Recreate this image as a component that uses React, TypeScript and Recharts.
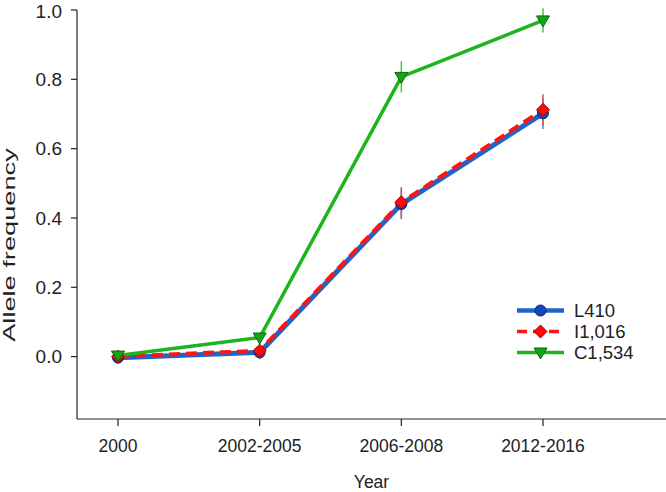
import { ErrorBar, Label, Legend, Line, LineChart, XAxis, YAxis } from "recharts";

const periods = ["2000", "2002-2005", "2006-2008", "2012-2016"];
const l410 = [-0.003, 0.012, 0.44, 0.702];
const l410Err = [0.008, 0.012, 0.044, 0.045];
const i1016 = [0.0, 0.017, 0.445, 0.712];
const i1016Err = [0.008, 0.025, 0.044, 0.045];
const c1534 = [0.003, 0.055, 0.807, 0.97];
const c1534Err = [0.012, 0.015, 0.045, 0.035];
const yTicks = [0, 0.2, 0.4, 0.6, 0.8, 1.0];

const FONT = "'Liberation Sans', Arial, sans-serif";
const INK = "#222";

const BLUE = "#1f65c9";
const RED = "#ff1414";
const GREEN = "#1db51d";

const rows = periods.map((p, i) => ({
  period: p,
  l410: l410[i],
  l410Err: l410Err[i],
  i1016: i1016[i],
  i1016Err: i1016Err[i],
  c1534: c1534[i],
  c1534Err: c1534Err[i],
}));

type DotProps = { cx?: number; cy?: number };

function CircleDot({ cx, cy }: DotProps) {
  if (cx == null || cy == null) return null;
  return <circle cx={cx} cy={cy} r={5.5} fill="#1846b8" stroke="#0b2676" strokeWidth={1} />;
}

function DiamondDot({ cx, cy }: DotProps) {
  if (cx == null || cy == null) return null;
  const s = 6.5;
  return (
    <path
      d={`M${cx},${cy - s}L${cx + s},${cy}L${cx},${cy + s}L${cx - s},${cy}Z`}
      fill="#ff0a0a"
      stroke="#a00000"
      strokeWidth={1}
    />
  );
}

function TriangleDot({ cx, cy }: DotProps) {
  if (cx == null || cy == null) return null;
  return (
    <path
      d={`M${cx - 6.5},${cy - 4.5}L${cx + 6.5},${cy - 4.5}L${cx},${cy + 6.5}Z`}
      fill="#15a415"
      stroke="#086a08"
      strokeWidth={1}
    />
  );
}

const series = [
  { name: "L410", color: BLUE, width: 4.5, dash: undefined, Dot: CircleDot },
  { name: "I1,016", color: RED, width: 3.5, dash: "10 6", Dot: DiamondDot },
  { name: "C1,534", color: GREEN, width: 3.5, dash: undefined, Dot: TriangleDot },
];

function LegendBox() {
  return (
    <div style={{ fontFamily: FONT, fontSize: 18.5, color: INK }}>
      {series.map((s) => (
        <div key={s.name} style={{ display: "flex", alignItems: "center", height: 21 }}>
          <svg width={50} height={21}>
            <line x1={1} y1={10.5} x2={48} y2={10.5} stroke={s.color} strokeWidth={s.width} strokeDasharray={s.dash} />
            <s.Dot cx={24.5} cy={10.5} />
          </svg>
          <span style={{ marginLeft: 8, lineHeight: "21px" }}>{s.name}</span>
        </div>
      ))}
    </div>
  );
}

export default function App() {
  return (
    <div style={{ position: "fixed", left: 0, top: 0, width: 666, height: 492, background: "#fff" }}>
      <LineChart width={666} height={492} data={rows} margin={{ top: 10, right: 0, bottom: 0, left: 0 }}>
        <XAxis
          dataKey="period"
          padding={{ left: 41, right: 123 }}
          height={73}
          tickSize={7}
          tickMargin={14}
          stroke={INK}
          strokeWidth={1.2}
          tick={{ fill: INK, fontSize: 17.5, fontFamily: FONT }}
        >
          <Label value="Year" position="insideBottom" offset={4} fill={INK} fontSize={17.5} fontFamily={FONT} />
        </XAxis>
        <YAxis
          type="number"
          domain={[-0.18, 1]}
          ticks={yTicks}
          tickFormatter={(v: number) => v.toFixed(1)}
          width={77}
          tickSize={6}
          tickMargin={9}
          stroke={INK}
          strokeWidth={1.2}
          tick={{ fill: INK, fontSize: 19, fontFamily: FONT }}
          allowDataOverflow
        >
          <Label
            content={() => (
              <text
                x={0}
                y={0}
                transform="translate(15 245) rotate(-90) scale(1.65 1)"
                textAnchor="middle"
                fill={INK}
                fontSize={16.5}
                fontFamily={FONT}
              >
                Allele frequency
              </text>
            )}
          />
        </YAxis>
        <Legend
          layout="vertical"
          align="center"
          verticalAlign="middle"
          content={() => <LegendBox />}
          wrapperStyle={{ left: 516, top: 300, width: 150 }}
        />
        <Line
          dataKey="l410"
          name="L410"
          stroke={BLUE}
          strokeWidth={5}
          dot={<CircleDot />}
          activeDot={false}
          isAnimationActive={false}
        >
          <ErrorBar dataKey="l410Err" width={0} stroke="#4d8ddc" strokeWidth={1.5} direction="y" />
        </Line>
        <Line
          dataKey="i1016"
          name="I1,016"
          stroke={RED}
          strokeWidth={4}
          strokeDasharray="11 6"
          dot={<DiamondDot />}
          activeDot={false}
          isAnimationActive={false}
        >
          <ErrorBar dataKey="i1016Err" width={0} stroke="#e05050" strokeWidth={1.5} direction="y" />
        </Line>
        <Line
          dataKey="c1534"
          name="C1,534"
          stroke={GREEN}
          strokeWidth={3.5}
          dot={<TriangleDot />}
          activeDot={false}
          isAnimationActive={false}
        >
          <ErrorBar dataKey="c1534Err" width={0} stroke="#3ccc3c" strokeWidth={1.5} direction="y" />
        </Line>
      </LineChart>
    </div>
  );
}
